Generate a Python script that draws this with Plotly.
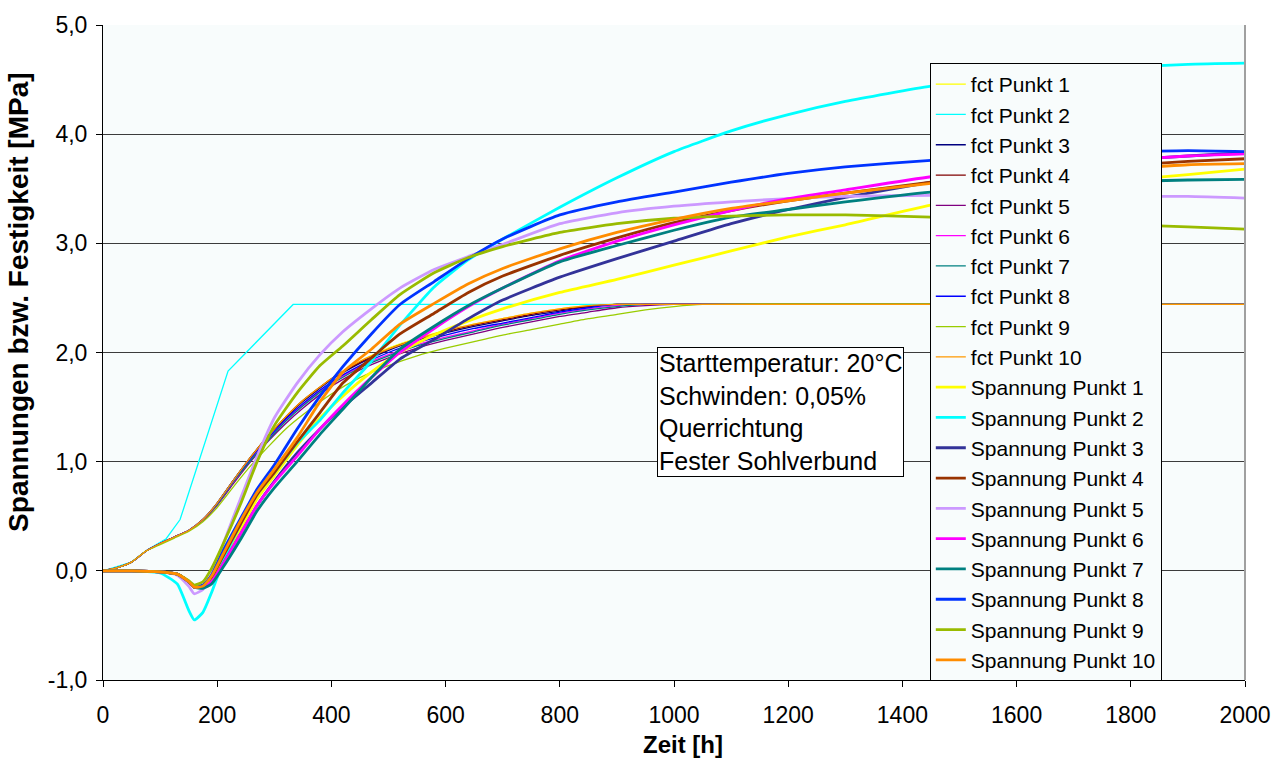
import plotly.graph_objects as go

# ---------------- data ----------------
T_FCT = [0, 25, 50, 75, 100, 125, 150, 175, 200, 230, 260, 290, 320, 350, 400,
         450, 500, 550, 600, 650, 700, 750, 800, 850, 900, 950, 1000, 1050, 2000]

fct1 = [0, 0.03, 0.08, 0.18, 0.25, 0.31, 0.37, 0.47, 0.62, 0.84, 1.05, 1.24, 1.41, 1.56, 1.76,
        1.92, 2.04, 2.13, 2.20, 2.26, 2.31, 2.36, 2.40, 2.43, 2.44, 2.44, 2.44, 2.44, 2.44]
fct3 = [0, 0.03, 0.08, 0.18, 0.25, 0.31, 0.37, 0.47, 0.62, 0.84, 1.05, 1.24, 1.40, 1.55, 1.75,
        1.90, 2.02, 2.11, 2.18, 2.24, 2.29, 2.34, 2.38, 2.42, 2.44, 2.44, 2.44, 2.44, 2.44]
fct4 = [0, 0.03, 0.08, 0.18, 0.25, 0.31, 0.37, 0.47, 0.62, 0.84, 1.05, 1.24, 1.41, 1.56, 1.76,
        1.91, 2.03, 2.12, 2.19, 2.25, 2.30, 2.35, 2.39, 2.42, 2.44, 2.44, 2.44, 2.44, 2.44]
fct5 = [0, 0.03, 0.08, 0.18, 0.25, 0.31, 0.37, 0.46, 0.60, 0.81, 1.01, 1.19, 1.35, 1.49, 1.69,
        1.84, 1.95, 2.04, 2.11, 2.17, 2.23, 2.28, 2.33, 2.37, 2.41, 2.43, 2.44, 2.44, 2.44]
fct6 = [0, 0.03, 0.08, 0.18, 0.25, 0.31, 0.37, 0.47, 0.61, 0.83, 1.03, 1.21, 1.38, 1.52, 1.72,
        1.87, 1.98, 2.07, 2.14, 2.20, 2.26, 2.31, 2.36, 2.40, 2.43, 2.44, 2.44, 2.44, 2.44]
fct7 = [0, 0.03, 0.08, 0.18, 0.25, 0.31, 0.37, 0.47, 0.61, 0.83, 1.02, 1.20, 1.37, 1.51, 1.71,
        1.86, 1.97, 2.06, 2.13, 2.19, 2.25, 2.30, 2.35, 2.39, 2.42, 2.44, 2.44, 2.44, 2.44]
fct8 = [0, 0.03, 0.08, 0.18, 0.25, 0.31, 0.37, 0.47, 0.62, 0.84, 1.04, 1.22, 1.39, 1.53, 1.73,
        1.88, 2.00, 2.09, 2.16, 2.22, 2.27, 2.32, 2.37, 2.41, 2.44, 2.44, 2.44, 2.44, 2.44]
fct9 = [0, 0.03, 0.08, 0.18, 0.24, 0.30, 0.36, 0.45, 0.58, 0.78, 0.97, 1.14, 1.30, 1.43, 1.62,
        1.77, 1.88, 1.97, 2.04, 2.10, 2.16, 2.21, 2.26, 2.31, 2.35, 2.39, 2.42, 2.44, 2.44]
fct10 = [0, 0.03, 0.08, 0.18, 0.25, 0.31, 0.37, 0.47, 0.62, 0.84, 1.05, 1.24, 1.41, 1.56, 1.76,
         1.92, 2.03, 2.12, 2.20, 2.26, 2.31, 2.36, 2.40, 2.43, 2.44, 2.44, 2.44, 2.44, 2.44]

T_FCT2 = [0, 50, 80, 110, 135, 219, 333, 2000]
fct2 = [0, 0.08, 0.20, 0.29, 0.47, 1.83, 2.44, 2.44]

T_S = [0, 50, 100, 130, 150, 160, 175, 190, 210, 240, 270, 300, 340, 380, 420, 470, 520,
       580, 640, 700, 800, 900, 1000, 1100, 1200, 1300, 1450, 1600, 1750, 1900, 2000]

s1 = [0, 0, -0.01, -0.03, -0.10, -0.15, -0.15, -0.07, 0.10, 0.38, 0.66, 0.87, 1.15, 1.40, 1.60,
      1.82, 2.00, 2.16, 2.29, 2.40, 2.55, 2.67, 2.80, 2.93, 3.06, 3.17, 3.35, 3.47, 3.56, 3.63, 3.68]
s2 = [0, 0, -0.02, -0.12, -0.36, -0.45, -0.38, -0.20, 0.08, 0.42, 0.70, 0.90, 1.17, 1.38, 1.63,
      1.92, 2.25, 2.60, 2.85, 3.04, 3.33, 3.60, 3.84, 4.03, 4.18, 4.30, 4.44, 4.53, 4.60, 4.64, 4.65]
s3 = [0, 0, -0.01, -0.03, -0.10, -0.15, -0.15, -0.10, 0.06, 0.33, 0.60, 0.82, 1.08, 1.30, 1.50,
      1.72, 1.94, 2.12, 2.31, 2.48, 2.69, 2.86, 3.02, 3.18, 3.31, 3.42, 3.56, 3.67, 3.75, 3.80, 3.83]
s4 = [0, 0, -0.01, -0.03, -0.10, -0.15, -0.14, -0.06, 0.13, 0.42, 0.70, 0.90, 1.18, 1.45, 1.72,
      1.95, 2.17, 2.36, 2.55, 2.70, 2.89, 3.05, 3.19, 3.30, 3.39, 3.46, 3.56, 3.64, 3.70, 3.75, 3.775]
s5 = [0, 0, -0.01, -0.04, -0.14, -0.21, -0.17, -0.03, 0.24, 0.65, 1.05, 1.40, 1.72, 1.98, 2.19,
      2.40, 2.59, 2.76, 2.88, 2.99, 3.18, 3.28, 3.34, 3.38, 3.41, 3.43, 3.44, 3.44, 3.43, 3.43, 3.415]
s6 = [0, 0, -0.01, -0.03, -0.10, -0.15, -0.15, -0.10, 0.06, 0.33, 0.60, 0.81, 1.05, 1.30, 1.52,
      1.77, 2.00, 2.22, 2.42, 2.59, 2.84, 3.02, 3.17, 3.30, 3.41, 3.49, 3.61, 3.69, 3.75, 3.80, 3.82]
s7 = [0, 0, -0.01, -0.03, -0.10, -0.15, -0.16, -0.12, 0.03, 0.28, 0.55, 0.76, 1.00, 1.25, 1.48,
      1.77, 2.03, 2.24, 2.43, 2.59, 2.83, 2.98, 3.12, 3.24, 3.31, 3.38, 3.47, 3.52, 3.56, 3.58, 3.585]
s8 = [0, 0, -0.01, -0.03, -0.10, -0.15, -0.13, -0.04, 0.18, 0.47, 0.75, 0.97, 1.30, 1.60, 1.87,
      2.17, 2.44, 2.65, 2.86, 3.04, 3.26, 3.38, 3.47, 3.56, 3.64, 3.70, 3.76, 3.80, 3.83, 3.85, 3.84]
s9 = [0, 0, -0.01, -0.03, -0.09, -0.13, -0.10, 0.02, 0.24, 0.60, 1.00, 1.33, 1.63, 1.88, 2.06,
      2.30, 2.53, 2.73, 2.87, 2.97, 3.10, 3.18, 3.23, 3.25, 3.26, 3.26, 3.24, 3.21, 3.18, 3.15, 3.13]
s10 = [0, 0, -0.01, -0.03, -0.10, -0.15, -0.14, -0.05, 0.15, 0.45, 0.72, 0.93, 1.22, 1.55, 1.82,
       2.03, 2.26, 2.45, 2.63, 2.77, 2.95, 3.10, 3.22, 3.32, 3.39, 3.46, 3.55, 3.62, 3.67, 3.72, 3.73]

fct_names = [f"fct Punkt {i}" for i in range(1, 11)]
s_names = [f"Spannung Punkt {i}" for i in range(1, 11)]
fct_series = [fct1, fct2, fct3, fct4, fct5, fct6, fct7, fct8, fct9, fct10]
s_series = [s1, s2, s3, s4, s5, s6, s7, s8, s9, s10]

fct_colors = ["#FFFF00", "#00FFFF", "#000080", "#800000", "#800080",
              "#FF00FF", "#008080", "#0000FF", "#99CC00", "#FF9900"]
s_colors = ["#FFFF00", "#00FFFF", "#333399", "#993300", "#CC99FF",
            "#FF00FF", "#008080", "#0033FF", "#99BB00", "#FF8C00"]

x_ticks = [0, 200, 400, 600, 800, 1000, 1200, 1400, 1600, 1800, 2000]
y_ticks = [-1, 0, 1, 2, 3, 4, 5]
y_ticktext = ["-1,0", "0,0", "1,0", "2,0", "3,0", "4,0", "5,0"]

FONT = "Liberation Sans, Arial, sans-serif"

fig = go.Figure()
for i, (name, vals, col) in enumerate(zip(fct_names, fct_series, fct_colors)):
    xs = T_FCT2 if i == 1 else T_FCT
    fig.add_trace(go.Scatter(x=xs, y=vals, name=name, mode="lines",
                             line=dict(color=col, width=1.3,
                                       shape="linear" if i == 1 else "spline", smoothing=0.5)))
for name, vals, col in zip(s_names, s_series, s_colors):
    fig.add_trace(go.Scatter(x=T_S, y=vals, name=name, mode="lines",
                             line=dict(color=col, width=2.8, shape="spline", smoothing=0.5)))

fig.update_layout(
    width=1286, height=764,
    margin=dict(l=103, r=41, t=20, b=84),
    paper_bgcolor="white",
    plot_bgcolor="#F8FCFC",
    font=dict(family=FONT, color="black", size=22),
    showlegend=True,
    legend=dict(x=0.724, y=0.942, xanchor="left", yanchor="top",
                bgcolor="#F8FCFC", bordercolor="black", borderwidth=1,
                font=dict(family=FONT, size=21, color="black"),
                tracegroupgap=0),
    xaxis=dict(range=[0, 2000], tickvals=x_ticks, ticks="outside", ticklen=6,
               tickcolor="black", showline=True, linecolor="black", linewidth=1,
               showgrid=False, zeroline=False, tickfont=dict(size=23),
               ticklabelstandoff=8),
    yaxis=dict(range=[-1, 5], tickvals=y_ticks, ticktext=y_ticktext, ticks="outside", ticklen=6,
               tickcolor="black", showline=True, linecolor="black", linewidth=1,
               showgrid=True, gridcolor="#3C3C3C", gridwidth=1, zeroline=False,
               tickfont=dict(size=23), ticklabelstandoff=4),
    shapes=[dict(type="line", xref="paper", yref="paper", x0=1, x1=1, y0=0, y1=1,
                 line=dict(color="#A0A0A0", width=2))],
    annotations=[
        dict(xref="paper", yref="paper", x=0.485, y=0.508,
             xanchor="left", yanchor="top", align="left", showarrow=False,
             text="Starttemperatur: 20°C<br>Schwinden: 0,05%<br>Querrichtung<br>Fester Sohlverbund",
             font=dict(family=FONT, size=25, color="black"),
             bgcolor="white", bordercolor="black", borderwidth=1, borderpad=1),
        dict(xref="paper", yref="paper", x=(683 - 103) / 1142, y=(680 - 745) / 660,
             xanchor="center", yanchor="middle", showarrow=False,
             text="<b>Zeit [h]</b>", font=dict(family=FONT, size=24, color="black")),
        dict(xref="paper", yref="paper", x=(19 - 103) / 1142, y=(680 - 300) / 660,
             xanchor="center", yanchor="middle", showarrow=False, textangle=-90,
             text="<b>Spannungen bzw. Festigkeit [MPa]</b>",
             font=dict(family=FONT, size=28, color="black")),
    ],
)

fig.write_html("out.html")
